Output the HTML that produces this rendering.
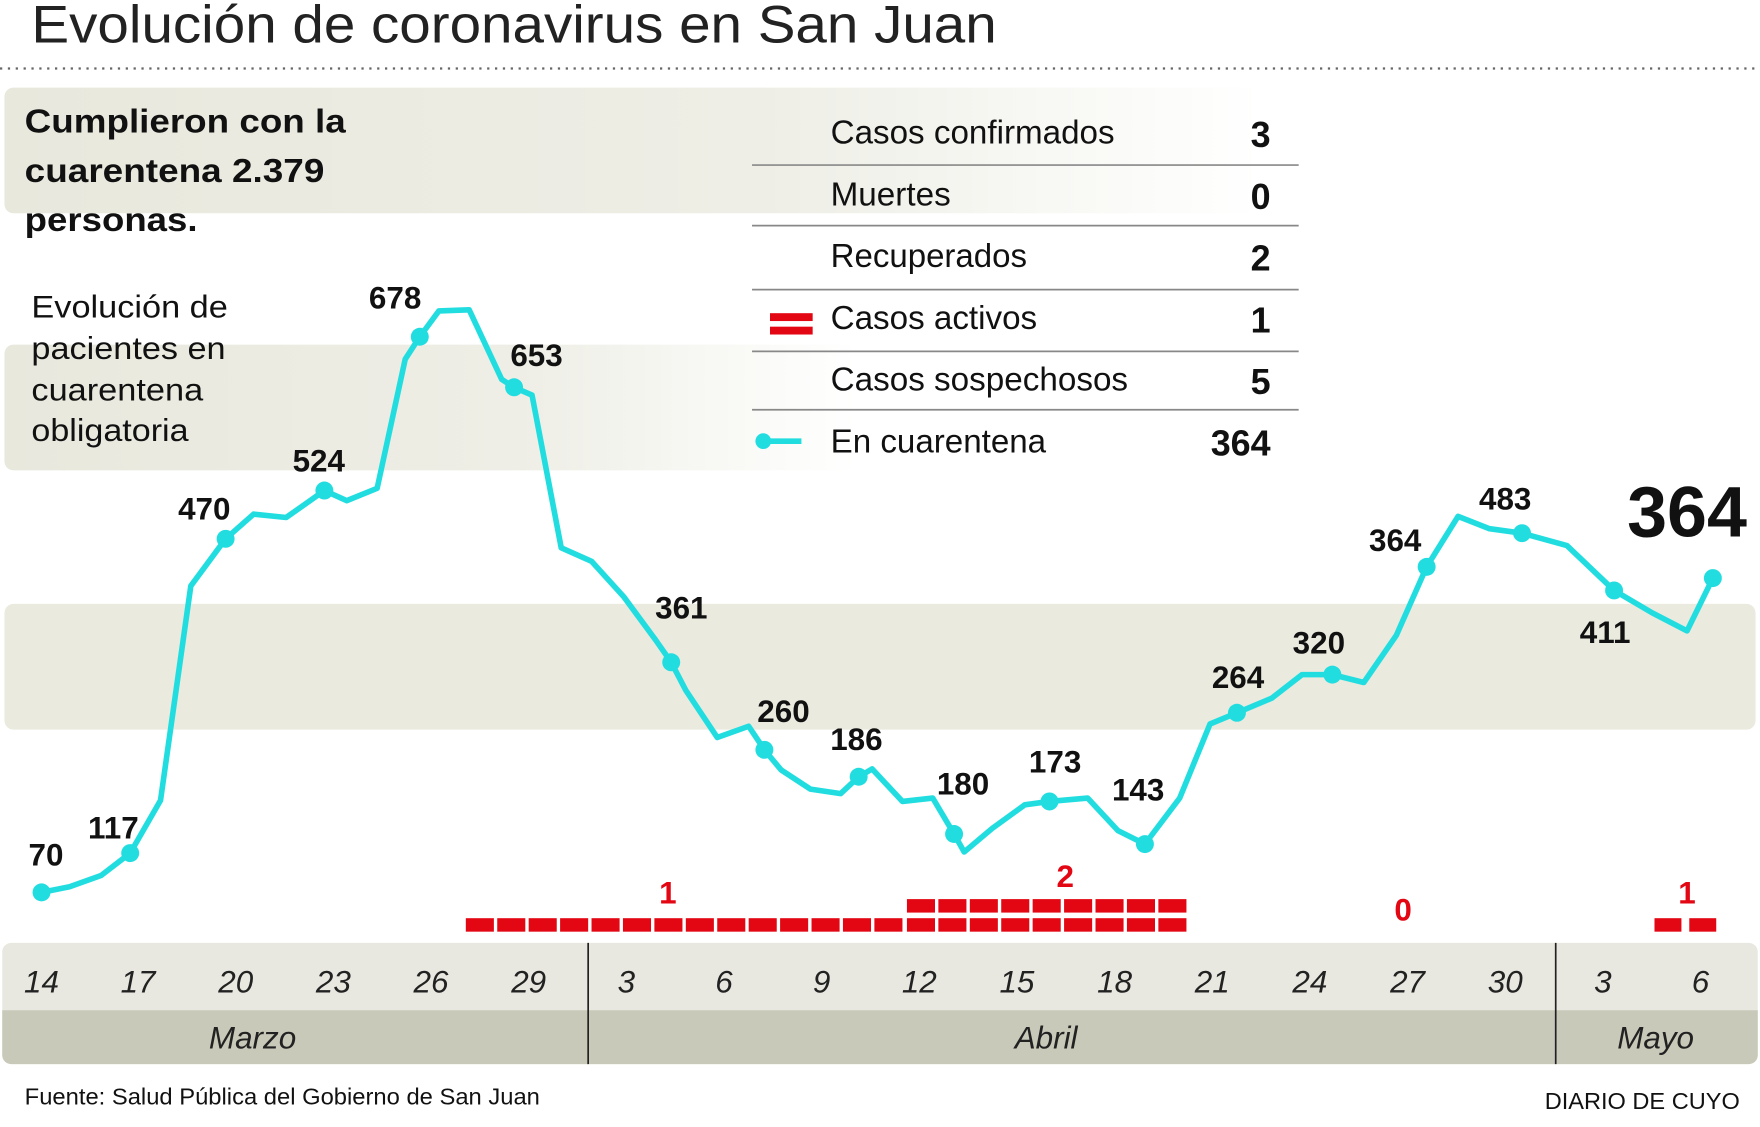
<!DOCTYPE html>
<html><head><meta charset="utf-8"><style>
html,body{margin:0;padding:0;background:#fff;}
svg{display:block;}
text{font-family:"Liberation Sans",sans-serif;}
</style></head><body>
<svg width="1760" height="1127" viewBox="0 0 1568 1004" xmlns="http://www.w3.org/2000/svg">
<defs>
<linearGradient id="g1" x1="0" x2="1" y1="0" y2="0">
<stop offset="0" stop-color="#e8e8dd"/><stop offset="0.6" stop-color="#eeeee6"/><stop offset="1" stop-color="#ffffff"/>
</linearGradient>
</defs>
<rect width="1568" height="1004" fill="#fff"/>
<text x="28" y="38" font-size="47" fill="#222" textLength="860" lengthAdjust="spacingAndGlyphs">Evolución de coronavirus en San Juan</text>
<line x1="0" y1="61" x2="1568" y2="61" stroke="#666" stroke-width="2" stroke-dasharray="2,5"/>

<rect x="4" y="78" width="1120" height="112" rx="8" fill="url(#g1)"/>
<rect x="4" y="307" width="760" height="112" rx="8" fill="url(#g1)"/>
<rect x="4" y="538" width="1560" height="112" rx="8" fill="#eaeadf"/>

<g font-weight="bold" font-size="30" fill="#111" lengthAdjust="spacingAndGlyphs">
<text x="22" y="118" textLength="286" lengthAdjust="spacingAndGlyphs">Cumplieron con la</text>
<text x="22" y="162" textLength="267" lengthAdjust="spacingAndGlyphs">cuarentena 2.379</text>
<text x="22" y="206" textLength="154" lengthAdjust="spacingAndGlyphs">personas.</text>
</g>
<g font-size="28" fill="#111">
<text x="28" y="283" textLength="175" lengthAdjust="spacingAndGlyphs">Evolución de</text>
<text x="28" y="320" textLength="173" lengthAdjust="spacingAndGlyphs">pacientes en</text>
<text x="28" y="357" textLength="153" lengthAdjust="spacingAndGlyphs">cuarentena</text>
<text x="28" y="393" textLength="140" lengthAdjust="spacingAndGlyphs">obligatoria</text>
</g>

<g stroke="#888" stroke-width="1.5">
<line x1="670" y1="147" x2="1157" y2="147"/>
<line x1="670" y1="201" x2="1157" y2="201"/>
<line x1="670" y1="258" x2="1157" y2="258"/>
<line x1="670" y1="313" x2="1157" y2="313"/>
<line x1="670" y1="365" x2="1157" y2="365"/>
</g>
<g font-size="30" fill="#111">
<text x="740" y="128" textLength="253" lengthAdjust="spacingAndGlyphs">Casos confirmados</text>
<text x="740" y="183" textLength="107" lengthAdjust="spacingAndGlyphs">Muertes</text>
<text x="740" y="238" textLength="175" lengthAdjust="spacingAndGlyphs">Recuperados</text>
<text x="740" y="293" textLength="184" lengthAdjust="spacingAndGlyphs">Casos activos</text>
<text x="740" y="348" textLength="265" lengthAdjust="spacingAndGlyphs">Casos sospechosos</text>
<text x="740" y="403" textLength="192" lengthAdjust="spacingAndGlyphs">En cuarentena</text>
</g>
<g font-size="32" font-weight="bold" fill="#111" text-anchor="end">
<text x="1132" y="131">3</text>
<text x="1132" y="186">0</text>
<text x="1132" y="241">2</text>
<text x="1132" y="296">1</text>
<text x="1132" y="351">5</text>
<text x="1132" y="406">364</text>
</g>
<rect x="686" y="279" width="38" height="7" fill="#e30613"/>
<rect x="686" y="291" width="38" height="7" fill="#e30613"/>
<line x1="680" y1="393" x2="714" y2="393" stroke="#22dde0" stroke-width="5"/>
<circle cx="680" cy="393" r="7" fill="#22dde0"/>

<rect x="2" y="840" width="1564" height="108" rx="8" fill="#e8e8e0"/>
<path d="M2 900 H1566 V940 a8 8 0 0 1 -8 8 H10 a8 8 0 0 1 -8 -8 Z" fill="#c9c9b9"/>
<line x1="524" y1="840" x2="524" y2="948" stroke="#222" stroke-width="1.5"/>
<line x1="1386" y1="840" x2="1386" y2="948" stroke="#222" stroke-width="1.5"/>
<g font-size="28" font-style="italic" fill="#222" text-anchor="middle">
<text x="37" y="884">14</text><text x="123" y="884">17</text><text x="210" y="884">20</text>
<text x="297" y="884">23</text><text x="384" y="884">26</text><text x="471" y="884">29</text>
<text x="558" y="884">3</text><text x="645" y="884">6</text><text x="732" y="884">9</text>
<text x="819" y="884">12</text><text x="906" y="884">15</text><text x="993" y="884">18</text>
<text x="1080" y="884">21</text><text x="1167" y="884">24</text><text x="1254" y="884">27</text>
<text x="1341" y="884">30</text><text x="1428" y="884">3</text><text x="1515" y="884">6</text>
<text x="225" y="934">Marzo</text><text x="932" y="934">Abril</text><text x="1475" y="934">Mayo</text>
</g>

<g fill="#e30613">
<rect x="415" y="818" width="25" height="12"/><rect x="443" y="818" width="25" height="12"/><rect x="471" y="818" width="25" height="12"/><rect x="499" y="818" width="25" height="12"/><rect x="527" y="818" width="25" height="12"/><rect x="555" y="818" width="25" height="12"/><rect x="583" y="818" width="25" height="12"/><rect x="611" y="818" width="25" height="12"/><rect x="639" y="818" width="25" height="12"/><rect x="667" y="818" width="25" height="12"/><rect x="695" y="818" width="25" height="12"/><rect x="723" y="818" width="25" height="12"/><rect x="751" y="818" width="25" height="12"/><rect x="779" y="818" width="25" height="12"/><rect x="808" y="818" width="25" height="12"/><rect x="836" y="818" width="25" height="12"/><rect x="864" y="818" width="25" height="12"/><rect x="892" y="818" width="25" height="12"/><rect x="920" y="818" width="25" height="12"/><rect x="948" y="818" width="25" height="12"/><rect x="976" y="818" width="25" height="12"/><rect x="1004" y="818" width="25" height="12"/><rect x="1032" y="818" width="25" height="12"/>
<rect x="808" y="801" width="25" height="12"/><rect x="836" y="801" width="25" height="12"/><rect x="864" y="801" width="25" height="12"/><rect x="892" y="801" width="25" height="12"/><rect x="920" y="801" width="25" height="12"/><rect x="948" y="801" width="25" height="12"/><rect x="976" y="801" width="25" height="12"/><rect x="1004" y="801" width="25" height="12"/><rect x="1032" y="801" width="25" height="12"/>
<rect x="1474" y="818" width="24" height="12"/><rect x="1505" y="818" width="24" height="12"/>
</g>
<g font-size="28" font-weight="bold" fill="#e30613" text-anchor="middle">
<text x="595" y="805">1</text><text x="949" y="790">2</text><text x="1250" y="820">0</text><text x="1503" y="805">1</text>
</g>

<polyline fill="none" stroke="#22dde0" stroke-width="5" stroke-linejoin="round" points="37,795 62,790 90,780 116,760 143,713 170,522 201,480 226,458 255,461 289,437 309,446 336,435 361,320 374,300 391,277 418,276 447,338 458,345 474,352 500,488 527,500 556,532 584,570 598,590 611,615 639,657 667,647 681,668 696,686 722,703 749,707 765,692 777,685 804,714 831,711 850,743 859,759 884,738 913,717 935,714 969,711 996,740 1020,752 1051,711 1078,645 1102,635 1133,622 1160,601 1187,601 1215,608 1244,566 1271,505 1299,460 1327,471 1356,475 1396,486 1438,526 1472,546 1503,562 1526,515"/>
<g fill="#22dde0">
<circle cx="37" cy="795" r="8"/><circle cx="116" cy="760" r="8"/><circle cx="201" cy="480" r="8"/><circle cx="289" cy="437" r="8"/><circle cx="374" cy="300" r="8"/><circle cx="458" cy="345" r="8"/><circle cx="598" cy="590" r="8"/><circle cx="681" cy="668" r="8"/><circle cx="765" cy="692" r="8"/><circle cx="850" cy="743" r="8"/><circle cx="935" cy="714" r="8"/><circle cx="1020" cy="752" r="8"/><circle cx="1102" cy="635" r="8"/><circle cx="1187" cy="601" r="8"/><circle cx="1271" cy="505" r="8"/><circle cx="1356" cy="475" r="8"/><circle cx="1438" cy="526" r="8"/><circle cx="1526" cy="515" r="8"/>
</g>
<g font-size="28" font-weight="bold" fill="#111" text-anchor="middle">
<text x="41" y="771">70</text><text x="101" y="747">117</text><text x="182" y="463">470</text><text x="284" y="420">524</text><text x="352" y="275">678</text><text x="478" y="326">653</text><text x="607" y="551">361</text><text x="698" y="643">260</text><text x="763" y="668">186</text><text x="858" y="708">180</text><text x="940" y="688">173</text><text x="1014" y="713">143</text><text x="1103" y="613">264</text><text x="1175" y="582">320</text><text x="1243" y="491">364</text><text x="1341" y="454">483</text><text x="1430" y="573">411</text>
<text x="1503" y="478" font-size="64">364</text>
</g>
<text x="22" y="984" font-size="21" fill="#111" textLength="459" lengthAdjust="spacingAndGlyphs">Fuente: Salud Pública del Gobierno de San Juan</text>
<text x="1550" y="988" font-size="21" fill="#111" text-anchor="end">DIARIO DE CUYO</text>
</svg>
</body></html>
